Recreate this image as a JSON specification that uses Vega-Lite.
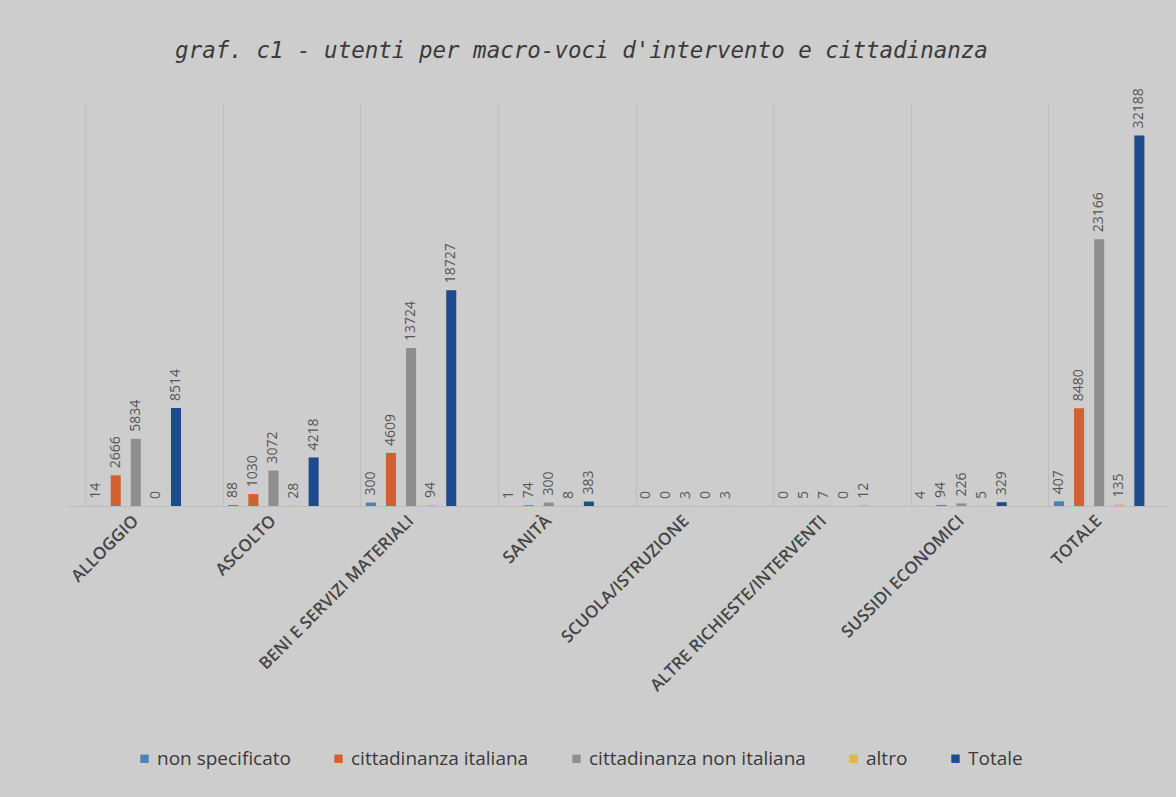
{
  "$schema": "https://vega.github.io/schema/vega-lite/v6.json",
  "autosize": {"type": "none"},
  "width": 1101,
  "height": 403,
  "padding": {"left": 67, "top": 103, "right": 8, "bottom": 291},
  "background": "#cdcdcd",
  "title": {
    "text": "graf. c1 - utenti per macro-voci d'intervento  e cittadinanza",
    "font": "DejaVu Sans Mono",
    "fontSize": 22.5,
    "fontStyle": "italic",
    "fontWeight": "normal",
    "color": "#3a3a3a",
    "anchor": "middle",
    "frame": "group",
    "baseline": "bottom",
    "dx": -36,
    "offset": 3
  },
  "config": {
    "view": {"stroke": null},
    "font": "Open Sans"
  },
  "data": {
    "values": [
      {"voce": "ALLOGGIO", "serie": "non specificato", "utenti": 14},
      {"voce": "ALLOGGIO", "serie": "cittadinanza italiana", "utenti": 2666},
      {"voce": "ALLOGGIO", "serie": "cittadinanza non italiana", "utenti": 5834},
      {"voce": "ALLOGGIO", "serie": "altro", "utenti": 0},
      {"voce": "ALLOGGIO", "serie": "Totale", "utenti": 8514},
      {"voce": "ASCOLTO", "serie": "non specificato", "utenti": 88},
      {"voce": "ASCOLTO", "serie": "cittadinanza italiana", "utenti": 1030},
      {"voce": "ASCOLTO", "serie": "cittadinanza non italiana", "utenti": 3072},
      {"voce": "ASCOLTO", "serie": "altro", "utenti": 28},
      {"voce": "ASCOLTO", "serie": "Totale", "utenti": 4218},
      {"voce": "BENI E SERVIZI MATERIALI", "serie": "non specificato", "utenti": 300},
      {"voce": "BENI E SERVIZI MATERIALI", "serie": "cittadinanza italiana", "utenti": 4609},
      {"voce": "BENI E SERVIZI MATERIALI", "serie": "cittadinanza non italiana", "utenti": 13724},
      {"voce": "BENI E SERVIZI MATERIALI", "serie": "altro", "utenti": 94},
      {"voce": "BENI E SERVIZI MATERIALI", "serie": "Totale", "utenti": 18727},
      {"voce": "SANITÀ", "serie": "non specificato", "utenti": 1},
      {"voce": "SANITÀ", "serie": "cittadinanza italiana", "utenti": 74},
      {"voce": "SANITÀ", "serie": "cittadinanza non italiana", "utenti": 300},
      {"voce": "SANITÀ", "serie": "altro", "utenti": 8},
      {"voce": "SANITÀ", "serie": "Totale", "utenti": 383},
      {"voce": "SCUOLA/ISTRUZIONE", "serie": "non specificato", "utenti": 0},
      {"voce": "SCUOLA/ISTRUZIONE", "serie": "cittadinanza italiana", "utenti": 0},
      {"voce": "SCUOLA/ISTRUZIONE", "serie": "cittadinanza non italiana", "utenti": 3},
      {"voce": "SCUOLA/ISTRUZIONE", "serie": "altro", "utenti": 0},
      {"voce": "SCUOLA/ISTRUZIONE", "serie": "Totale", "utenti": 3},
      {"voce": "ALTRE RICHIESTE/INTERVENTI", "serie": "non specificato", "utenti": 0},
      {"voce": "ALTRE RICHIESTE/INTERVENTI", "serie": "cittadinanza italiana", "utenti": 5},
      {"voce": "ALTRE RICHIESTE/INTERVENTI", "serie": "cittadinanza non italiana", "utenti": 7},
      {"voce": "ALTRE RICHIESTE/INTERVENTI", "serie": "altro", "utenti": 0},
      {"voce": "ALTRE RICHIESTE/INTERVENTI", "serie": "Totale", "utenti": 12},
      {"voce": "SUSSIDI ECONOMICI", "serie": "non specificato", "utenti": 4},
      {"voce": "SUSSIDI ECONOMICI", "serie": "cittadinanza italiana", "utenti": 94},
      {"voce": "SUSSIDI ECONOMICI", "serie": "cittadinanza non italiana", "utenti": 226},
      {"voce": "SUSSIDI ECONOMICI", "serie": "altro", "utenti": 5},
      {"voce": "SUSSIDI ECONOMICI", "serie": "Totale", "utenti": 329},
      {"voce": "TOTALE", "serie": "non specificato", "utenti": 407},
      {"voce": "TOTALE", "serie": "cittadinanza italiana", "utenti": 8480},
      {"voce": "TOTALE", "serie": "cittadinanza non italiana", "utenti": 23166},
      {"voce": "TOTALE", "serie": "altro", "utenti": 135},
      {"voce": "TOTALE", "serie": "Totale", "utenti": 32188}
    ]
  },
  "encoding": {
    "x": {
      "field": "voce",
      "type": "nominal",
      "sort": null,
      "scale": {"paddingInner": 0.27, "paddingOuter": 0.135},
      "axis": {
        "title": null,
        "labelAngle": -45,
        "labelAlign": "right",
        "labelBaseline": "middle",
        "labelPadding": 12,
        "labelFont": "Open Sans",
        "labelFontSize": 17,
        "labelFontWeight": 600,
        "labelColor": "#454545",
        "labelLimit": 500,
        "ticks": false,
        "domainColor": "#bcbcbc",
        "domainWidth": 1,
        "grid": true,
        "gridColor": "#bdbdbd",
        "gridWidth": 1,
        "bandPosition": 0
      }
    },
    "xOffset": {
      "field": "serie",
      "type": "nominal",
      "sort": ["non specificato", "cittadinanza italiana", "cittadinanza non italiana", "altro", "Totale"],
      "scale": {"paddingInner": 0.5, "paddingOuter": 0.25}
    },
    "y": {
      "field": "utenti",
      "type": "quantitative",
      "scale": {"domain": [0, 35000]},
      "axis": null
    }
  },
  "layer": [
    {
      "mark": {"type": "bar"},
      "encoding": {
        "color": {
          "field": "serie",
          "type": "nominal",
          "sort": ["non specificato", "cittadinanza italiana", "cittadinanza non italiana", "altro", "Totale"],
          "scale": {
            "domain": ["non specificato", "cittadinanza italiana", "cittadinanza non italiana", "altro", "Totale"],
            "range": ["#4a82bd", "#cf622e", "#8e8e8e", "#e3b34c", "#1d4b8e"]
          },
          "legend": {
            "title": null,
            "orient": "none",
            "direction": "horizontal",
            "columns": 5,
            "legendX": 68,
            "legendY": 646,
            "padding": 0,
            "symbolType": "square",
            "symbolSize": 70,
            "symbolStrokeWidth": 0,
            "labelFont": "Open Sans",
            "labelFontSize": 19,
            "labelColor": "#3a3a3a",
            "labelOffset": 3,
            "labelLimit": 500,
            "columnPadding": 38
          }
        }
      }
    },
    {
      "mark": {
        "type": "text",
        "angle": 270,
        "align": "left",
        "baseline": "middle",
        "dx": 7,
        "font": "Open Sans",
        "fontSize": 14,
        "color": "#555555"
      },
      "encoding": {
        "text": {"field": "utenti", "type": "quantitative", "format": "d"}
      }
    }
  ]
}
